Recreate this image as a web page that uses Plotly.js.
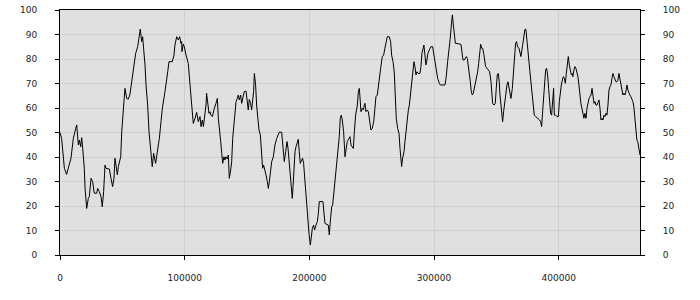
<!DOCTYPE html>
<html>
<head>
<meta charset="utf-8">
<script src="https://cdn.plot.ly/plotly-3.0.1.min.js"></script>
<style>html,body{margin:0;padding:0;background:#fff;}#chart{width:700px;height:300px;}</style>
</head>
<body>
<div id="chart"></div>
<script>
// x positions in thousands of units
var xThousands = [
0,1.3,3.5,5.3,8.8,10.7,12.6,13.4,14.7,15.5,16.6,17.4,18.2,19.5,20.1,21.4,22.7,23.5,24.9,26.2,
27.5,29.4,30.2,31.5,32.9,33.9,35.0,36.1,36.9,39.6,40.9,42.2,43.3,44.1,44.9,46.0,46.8,48.1,48.7,49.5,
50.8,52.1,53.5,54.8,56.1,57.5,58.8,59.6,60.7,62.3,63.6,64.4,65.5,66.3,67.1,68.2,69.0,70.3,71.4,72.7,
74.0,75.1,76.7,78.3,79.7,81.0,82.1,84.2,85.5,86.4,87.4,90.1,91.4,92.2,93.6,94.9,96.0,97.0,97.6,97.8,
98.9,99.7,101.1,102.9,104.3,105.1,106.1,106.9,
108.3,109.6,110.9,112.3,113.1,114.2,115.0,115.8,117.1,117.6,118.4,119.5,120.3,121.1,122.2,123.0,123.8,125.1,126.2,127.0,
127.8,128.9,129.7,130.5,131.5,132.3,133.1,134.2,135.0,135.8,136.9,137.7,138.5,139.5,140.3,141.2,142.2,143.0,143.8,144.9,
145.7,147.0,147.8,149.2,150.0,151.0,151.8,152.9,153.7,154.5,155.3,155.9,156.9,157.7,158.5,159.6,160.7,161.7,162.5,163.3,
164.4,165.2,166.3,167.1,167.9,168.9,169.8,171.1,172.4,173.8,175.1,175.9,177.8,178.6,179.4,179.9,181.0,182.1,182.9,183.7,
184.5,185.3,186.3,186.9,187.7,188.5,189.3,190.3,191.1,191.9,192.7,193.8,194.6,195.4,196.2,197.3,198.1,198.9,199.7,200.8,
201.6,202.4,203.4,204.2,205.3,206.4,207.2,208.0,210.9,211.7,212.5,215.2,216.0,216.8,217.9,218.7,219.8,220.5,221.3,222.4,
223.2,224.0,224.8,225.6,226.4,227.5,
228.6,229.4,230.4,231.8,232.6,233.4,234.5,235.3,236.1,237.1,238.5,239.3,240.1,240.6,241.4,242.5,243.3,244.1,244.6,245.4,
246.5,247.3,248.4,249.4,250.5,251.6,252.6,253.4,254.5,255.3,256.1,257.2,258.5,259.6,260.6,261.5,262.5,264.1,265.2,266.0,
267.1,268.1,268.9,269.7,270.8,271.9,272.7,273.5,274.0,274.8,275.9,276.7,277.5,278.6,279.4,280.2,281.2,282.0,282.8,283.9,
284.7,285.5,286.3,287.4,288.7,289.5,290.3,291.1,291.9,292.7,293.5,294.3,295.1,296.2,297.5,298.9,300.0,300.8,301.8,302.9,
304.2,305.0,308.8,309.8,310.9,312.0,313.0,313.9,314.7,315.5,316.3,317.1,321.6,322.4,323.2,324.3,325.1,325.9,326.7,327.5,
328.3,329.1,329.9,330.7,331.5,332.3,333.1,334.2,335.0,335.8,336.6,337.4,338.2,339.0,339.8,340.6,
341.4,342.5,343.5,344.6,345.7,346.2,347.0,348.1,349.1,349.9,350.7,351.5,352.3,352.9,353.7,354.5,355.0,355.8,356.6,357.7,
358.5,359.3,360.1,360.9,361.7,362.8,363.8,364.6,365.4,366.2,367.0,368.1,368.9,369.7,370.5,371.3,372.1,372.9,373.7,374.5,
375.3,376.1,376.9,377.7,378.8,379.6,380.4,381.5,382.6,383.6,384.7,385.5,386.3,387.1,387.9,388.7,389.5,390.3,391.1,391.9,
392.7,393.5,394.3,395.1,395.9,396.5,397.5,398.6,399.7,400.5,401.3,402.1,402.9,403.7,404.5,405.3,406.1,406.9,407.7,408.5,
409.3,410.1,410.9,411.4,412.2,413.0,413.8,414.6,415.4,416.2,417.0,417.8,418.6,419.4,420.2,421.0,421.9,422.7,423.5,424.3,
425.1,425.9,426.7,427.5,428.3,429.1,429.9,430.7,431.5,432.3,433.1,433.9,434.7,435.5,436.3,437.1,437.9,438.7,439.5,440.3,
441.1,441.9,442.7,443.5,444.3,445.1,445.9,446.7,447.5,448.3,449.1,449.9,450.7,451.5,452.3,453.1,453.9,454.7,455.5,456.3,
457.1,457.9,458.7,459.5,460.3,461.0,461.9,462.7,463.4,464.4,465.2
];
var values = [
50.0,47.6,35.4,32.9,39.5,47.6,51.7,53.1,44.9,46.9,44.2,47.9,43.5,35.4,27.2,19.0,23.1,23.8,31.3,29.9,
25.2,25.2,27.2,25.9,23.8,19.7,25.9,36.7,35.4,35.1,31.3,27.9,31.3,39.5,36.7,32.7,36.1,39.5,40.1,50.3,
61.2,68.0,63.9,63.6,65.6,70.1,76.2,76.9,82.3,85.0,89.8,92.2,87.1,89.1,84.0,77.6,69.4,61.2,50.3,42.2,
36.0,41.5,37.4,42.9,47.6,54.4,59.9,66.7,70.7,74.8,78.9,78.9,81.6,85.7,89.1,87.8,89.1,86.4,87.1,83.0,
86.1,85.0,81.6,78.2,69.4,65.3,59.9,53.7,
55.8,58.2,54.4,56.5,52.4,55.1,52.4,55.8,61.2,66.0,61.9,57.8,58.5,57.1,56.5,58.5,59.9,61.9,63.9,55.8,
50.3,46.3,41.5,37.4,40.1,38.8,40.1,39.2,40.8,31.3,34.7,38.1,47.6,54.4,59.9,62.6,63.9,65.3,63.3,65.3,
61.9,64.6,66.7,66.9,62.6,59.2,63.5,61.9,59.2,63.3,66.7,74.1,69.4,61.2,55.8,51.0,49.0,42.2,35.4,36.7,
34.7,32.7,29.9,27.2,29.9,34.0,38.1,40.1,44.9,47.6,49.7,50.1,50.1,46.3,42.2,38.1,42.2,46.3,43.5,38.1,
31.3,27.2,23.1,27.9,35.4,42.2,44.2,46.3,47.2,42.2,37.4,38.8,39.5,37.4,31.3,24.5,20.4,13.6,8.8,4.1,
8.2,10.9,12.2,10.2,12.2,13.6,17.0,21.8,21.8,16.3,12.9,12.2,8.2,13.6,19.7,20.4,25.9,29.9,33.3,37.4,
42.2,48.3,55.8,57.1,55.1,50.3,
40.1,43.5,46.3,47.6,48.3,44.9,44.2,43.5,50.3,57.1,61.2,66.7,68.0,65.3,58.5,59.9,59.2,61.2,61.9,58.5,
59.2,58.5,54.4,51.0,51.7,54.4,59.9,64.6,65.3,68.0,72.1,76.2,81.0,81.6,84.4,87.1,89.1,89.1,87.1,81.6,
78.9,74.8,65.3,55.8,51.7,49.7,43.5,38.1,36.1,39.5,42.2,46.3,51.0,57.1,59.2,61.2,65.3,68.7,73.5,78.9,
76.9,73.5,74.8,74.1,74.1,76.9,82.3,85.0,85.7,81.6,77.6,79.6,82.3,83.7,85.0,85.0,81.6,77.6,74.8,72.1,
70.1,69.4,69.4,72.8,78.9,83.0,88.4,93.9,98.0,93.9,89.1,86.4,86.0,81.6,79.6,79.6,80.3,81.0,80.3,77.6,
74.8,70.7,66.7,65.3,66.0,68.0,70.1,72.1,74.8,78.2,83.0,86.0,84.4,84.4,82.3,79.6,
76.9,76.2,75.5,74.8,70.7,65.3,61.9,61.2,61.9,68.0,73.5,74.1,70.7,65.3,61.2,58.5,54.4,58.5,62.6,66.7,
69.4,70.7,68.7,66.7,63.9,68.0,74.8,83.0,86.4,87.1,85.0,84.4,83.0,81.0,83.7,87.1,90.5,92.1,92.1,88.4,
83.0,78.9,74.8,70.7,66.0,61.2,57.1,56.5,56.1,55.8,55.1,54.4,52.4,58.5,65.3,72.1,75.5,76.2,73.5,68.0,
62.6,57.8,57.1,62.6,68.0,57.1,57.1,56.5,56.5,62.6,66.7,69.4,71.4,72.8,72.1,70.1,74.1,76.9,81.0,77.6,
74.8,73.5,74.1,72.8,75.5,76.9,76.2,74.8,72.8,69.4,63.9,61.9,59.9,57.1,55.8,57.8,55.8,59.9,62.6,63.9,
64.6,65.3,68.0,64.6,61.9,62.6,61.2,61.2,62.6,63.3,59.9,55.1,55.8,55.1,57.1,56.5,57.8,57.1,61.2,67.3,
68.7,69.4,72.1,74.1,72.8,71.4,70.7,70.7,71.4,74.1,72.1,69.4,66.7,65.3,66.0,65.3,66.7,69.4,67.3,66.0,
65.3,64.6,63.9,62.6,60.5,57.1,50.3,46.9,46.3,43.5,40.8
];
var xTickValues = [0, 100000, 200000, 300000, 400000];
var xTickLabels = ["0", "100000", "200000", "300000", "400000"];
var yTickValues = [0, 10, 20, 30, 40, 50, 60, 70, 80, 90, 100];

var xs = xThousands.map(function (v) { return v * 1000; });
var tickFont = {family: "DejaVu Sans, Verdana, sans-serif", size: 9, color: "#222"};

var traces = [
  {x: xs, y: values, type: "scatter", mode: "lines", line: {color: "#000", width: 1}, hoverinfo: "skip", showlegend: false},
  {x: xs, y: values, type: "scatter", mode: "lines", yaxis: "y2", line: {color: "rgba(0,0,0,0)", width: 0}, hoverinfo: "skip", showlegend: false}
];

var layout = {
  width: 700, height: 300,
  margin: {l: 60, r: 60, t: 10, b: 45, pad: 0},
  paper_bgcolor: "#ffffff",
  plot_bgcolor: "#e0e0e0",
  showlegend: false,
  xaxis: {
    range: [0, 465200], tickvals: xTickValues, ticktext: xTickLabels,
    showgrid: true, gridcolor: "#cfcfcf", gridwidth: 1, zeroline: false,
    showline: true, linecolor: "#000", linewidth: 1, mirror: true,
    ticks: "outside", ticklen: 4, tickcolor: "#000", tickwidth: 1,
    tickfont: tickFont, ticklabelstandoff: 10, fixedrange: true
  },
  yaxis: {
    range: [0, 100], tickvals: yTickValues,
    showgrid: true, gridcolor: "#cfcfcf", gridwidth: 1, zeroline: false,
    showline: true, linecolor: "#000", linewidth: 1, mirror: true,
    ticks: "outside", ticklen: 4, tickcolor: "#000", tickwidth: 1,
    tickfont: tickFont, ticklabelstandoff: 16, fixedrange: true
  },
  yaxis2: {
    overlaying: "y", side: "right", range: [0, 100], tickvals: yTickValues,
    showgrid: false, zeroline: false,
    showline: true, linecolor: "#000", linewidth: 1,
    ticks: "outside", ticklen: 4, tickcolor: "#000", tickwidth: 1,
    tickfont: tickFont, ticklabelstandoff: 16, fixedrange: true
  }
};

Plotly.newPlot("chart", traces, layout, {staticPlot: true, displayModeBar: false});
</script>
</body>
</html>
